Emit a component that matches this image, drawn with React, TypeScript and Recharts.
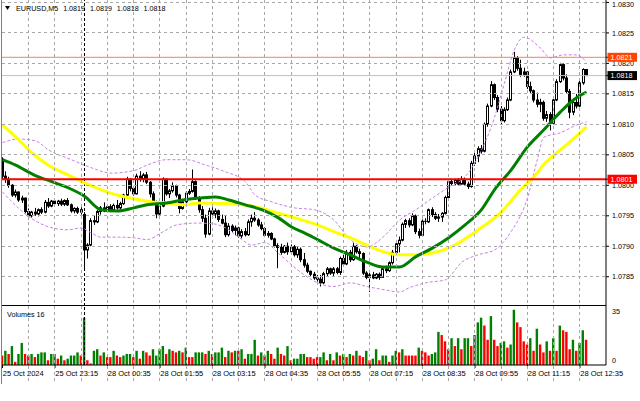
import React from 'react';
import { ComposedChart, Bar, Line, XAxis, YAxis, ReferenceLine } from 'recharts';

// ---------------- data (EURUSD, M5) ----------------
const opens = [
  1.08040,1.08015,1.08010,1.08000,1.07984,1.07989,1.07976,1.07979,1.07957,1.07950,
  1.07956,1.07953,1.07960,1.07956,1.07972,1.07966,1.07974,1.07970,1.07974,1.07969,
  1.07975,1.07968,1.07958,1.07962,1.07956,1.07952,1.07894,1.07902,1.07942,1.07940,
  1.07957,1.07963,1.07958,1.07965,1.07959,1.07967,1.07963,1.07970,1.07984,1.08010,
  1.07995,1.07986,1.08015,1.08010,1.08017,1.08005,1.07986,1.07972,1.07953,1.07966,
  1.08010,1.07986,1.07991,1.07999,1.07984,1.07962,1.07973,1.07987,1.07990,1.08006,
  1.07980,1.07960,1.07946,1.07920,1.07958,1.07953,1.07958,1.07944,1.07938,1.07919,
  1.07933,1.07926,1.07930,1.07917,1.07924,1.07919,1.07940,1.07946,1.07943,1.07935,
  1.07929,1.07918,1.07921,1.07912,1.07901,1.07898,1.07890,1.07900,1.07891,1.07899,
  1.07886,1.07895,1.07878,1.07869,1.07859,1.07854,1.07848,1.07846,1.07840,1.07855,
  1.07863,1.07856,1.07863,1.07857,1.07880,1.07871,1.07890,1.07878,1.07900,1.07891,
  1.07888,1.07856,1.07849,1.07853,1.07848,1.07854,1.07849,1.07863,1.07860,1.07873,
  1.07890,1.07904,1.07910,1.07936,1.07942,1.07935,1.07950,1.07924,1.07918,1.07941,
  1.07940,1.07960,1.07952,1.07946,1.07948,1.07954,1.07980,1.08006,1.08003,1.08008,
  1.08002,1.08010,1.08002,1.07998,1.08036,1.08048,1.08060,1.08056,1.08100,1.08130,
  1.08165,1.08144,1.08125,1.08106,1.08124,1.08140,1.08186,1.08209,1.08192,1.08182,
  1.08186,1.08162,1.08155,1.08140,1.08133,1.08136,1.08110,1.08116,1.08102,1.08140,
  1.08170,1.08198,1.08176,1.08154,1.08120,1.08136,1.08130,1.08168,1.08190,
];
const highs = [
  1.08046,1.08023,1.08014,1.08002,1.07993,1.07990,1.07983,1.07980,1.07962,1.07958,
  1.07963,1.07962,1.07964,1.07976,1.07979,1.07976,1.07978,1.07976,1.07978,1.07977,
  1.07979,1.07970,1.07964,1.07965,1.07964,1.07956,1.07905,1.07946,1.07950,1.07960,
  1.07966,1.07972,1.07968,1.07969,1.07970,1.07976,1.07973,1.07986,1.08014,1.08012,
  1.07999,1.08019,1.08023,1.08020,1.08022,1.08007,1.07990,1.07975,1.07970,1.08013,
  1.08011,1.07994,1.08005,1.08001,1.07986,1.07976,1.07990,1.07994,1.08026,1.08008,
  1.07982,1.07966,1.07952,1.07963,1.07964,1.07962,1.07960,1.07952,1.07950,1.07938,
  1.07936,1.07934,1.07932,1.07928,1.07930,1.07944,1.07952,1.07956,1.07946,1.07940,
  1.07931,1.07925,1.07923,1.07914,1.07905,1.07904,1.07902,1.07906,1.07903,1.07902,
  1.07899,1.07898,1.07889,1.07873,1.07860,1.07858,1.07853,1.07853,1.07858,1.07866,
  1.07865,1.07866,1.07866,1.07883,1.07886,1.07894,1.07894,1.07906,1.07902,1.07896,
  1.07890,1.07859,1.07856,1.07858,1.07856,1.07857,1.07866,1.07868,1.07875,1.07894,
  1.07908,1.07916,1.07939,1.07945,1.07946,1.07954,1.07952,1.07929,1.07944,1.07946,
  1.07962,1.07964,1.07956,1.07953,1.07956,1.07983,1.08010,1.08010,1.08011,1.08012,
  1.08015,1.08013,1.08006,1.08040,1.08054,1.08064,1.08066,1.08103,1.08134,1.08171,
  1.08167,1.08148,1.08130,1.08128,1.08144,1.08190,1.08219,1.08212,1.08206,1.08193,
  1.08187,1.08170,1.08157,1.08152,1.08142,1.08139,1.08122,1.08120,1.08144,1.08174,
  1.08201,1.08200,1.08182,1.08158,1.08140,1.08150,1.08173,1.08192,1.08190,
];
const lows = [
  1.08010,1.08004,1.07996,1.07981,1.07980,1.07973,1.07971,1.07954,1.07944,1.07947,
  1.07950,1.07949,1.07953,1.07954,1.07963,1.07964,1.07968,1.07966,1.07966,1.07966,
  1.07966,1.07955,1.07954,1.07953,1.07952,1.07862,1.07880,1.07900,1.07935,1.07938,
  1.07952,1.07956,1.07955,1.07956,1.07957,1.07960,1.07961,1.07968,1.07982,1.07990,
  1.07983,1.07985,1.08006,1.08005,1.08002,1.07980,1.07968,1.07946,1.07950,1.07964,
  1.07983,1.07979,1.07988,1.07980,1.07954,1.07960,1.07970,1.07984,1.07988,1.07976,
  1.07955,1.07940,1.07914,1.07918,1.07950,1.07946,1.07940,1.07936,1.07915,1.07916,
  1.07922,1.07918,1.07914,1.07913,1.07916,1.07917,1.07932,1.07940,1.07932,1.07926,
  1.07915,1.07914,1.07910,1.07898,1.07864,1.07886,1.07888,1.07886,1.07889,1.07883,
  1.07881,1.07874,1.07865,1.07856,1.07850,1.07845,1.07842,1.07834,1.07838,1.07850,
  1.07853,1.07850,1.07854,1.07853,1.07867,1.07869,1.07874,1.07876,1.07888,1.07879,
  1.07853,1.07846,1.07825,1.07846,1.07846,1.07845,1.07848,1.07856,1.07858,1.07870,
  1.07888,1.07890,1.07908,1.07930,1.07931,1.07933,1.07920,1.07913,1.07916,1.07936,
  1.07938,1.07948,1.07943,1.07940,1.07940,1.07952,1.07978,1.07999,1.08000,1.08000,
  1.08001,1.07999,1.07994,1.07996,1.08032,1.08038,1.08052,1.08054,1.08096,1.08128,
  1.08140,1.08120,1.08100,1.08103,1.08122,1.08138,1.08184,1.08188,1.08178,1.08178,
  1.08158,1.08150,1.08136,1.08128,1.08120,1.08106,1.08104,1.08090,1.08100,1.08138,
  1.08168,1.08172,1.08150,1.08110,1.08115,1.08126,1.08128,1.08165,1.08180,
];
const closes = [
  1.08015,1.08010,1.08000,1.07984,1.07989,1.07976,1.07979,1.07957,1.07950,1.07956,
  1.07953,1.07960,1.07956,1.07972,1.07966,1.07974,1.07970,1.07974,1.07969,1.07975,
  1.07968,1.07958,1.07962,1.07956,1.07960,1.07894,1.07902,1.07942,1.07940,1.07957,
  1.07963,1.07958,1.07965,1.07959,1.07967,1.07963,1.07970,1.07984,1.08010,1.07995,
  1.07986,1.08015,1.08010,1.08017,1.08005,1.07986,1.07972,1.07953,1.07966,1.08010,
  1.07986,1.07991,1.07999,1.07984,1.07962,1.07973,1.07987,1.07990,1.08006,1.07980,
  1.07960,1.07946,1.07920,1.07958,1.07953,1.07958,1.07944,1.07938,1.07919,1.07933,
  1.07926,1.07930,1.07917,1.07924,1.07919,1.07940,1.07946,1.07943,1.07935,1.07929,
  1.07918,1.07921,1.07912,1.07901,1.07898,1.07890,1.07900,1.07891,1.07899,1.07886,
  1.07895,1.07878,1.07869,1.07859,1.07854,1.07848,1.07846,1.07840,1.07855,1.07863,
  1.07856,1.07863,1.07857,1.07880,1.07871,1.07890,1.07878,1.07900,1.07891,1.07888,
  1.07856,1.07849,1.07853,1.07848,1.07854,1.07849,1.07863,1.07860,1.07873,1.07890,
  1.07904,1.07910,1.07936,1.07942,1.07935,1.07950,1.07924,1.07918,1.07941,1.07940,
  1.07960,1.07952,1.07946,1.07948,1.07954,1.07980,1.08006,1.08003,1.08008,1.08002,
  1.08010,1.08002,1.07998,1.08036,1.08048,1.08060,1.08056,1.08100,1.08130,1.08165,
  1.08144,1.08125,1.08106,1.08124,1.08140,1.08186,1.08209,1.08192,1.08182,1.08186,
  1.08162,1.08155,1.08140,1.08133,1.08136,1.08110,1.08116,1.08102,1.08140,1.08170,
  1.08198,1.08176,1.08154,1.08120,1.08136,1.08130,1.08168,1.08190,1.08180,
];
const volumes = [
  6,9,7,12,2,7,14,7,6,7,
  5,7,8,8,3,7,7,4,6,3,
  4,6,6,8,6,30,3,1,9,10,
  6,8,5,5,9,6,5,6,7,7,
  5,9,4,9,8,6,10,6,10,12,
  7,10,9,8,9,8,11,5,5,8,
  8,8,7,9,7,8,8,11,5,9,
  8,9,9,10,4,7,7,16,6,8,
  6,9,7,4,11,7,6,12,3,4,
  4,7,7,5,5,4,5,5,8,3,
  7,3,8,6,7,5,7,6,9,6,
  5,9,3,4,10,3,6,6,2,6,
  9,8,10,6,6,6,6,11,9,8,
  6,7,8,21,19,15,10,17,12,17,
  10,17,17,12,19,27,30,25,16,31,
  16,12,14,15,11,13,35,27,24,15,
  13,17,9,23,13,8,15,9,17,9,
  25,22,21,10,16,9,14,22,16,
];
// 1 = volume bar drawn green (rising), 0 = red
const volumeRising = [
  0,1,0,1,0,1,1,0,0,1,
  0,1,1,1,0,1,1,0,1,0,
  1,1,1,1,0,1,0,0,1,1,
  0,1,0,0,1,0,0,1,1,1,
  0,1,0,1,0,0,1,1,1,1,
  0,1,0,0,1,0,1,0,0,1,
  1,1,0,1,0,1,1,1,0,1,
  0,1,0,1,0,1,1,1,0,1,
  0,1,0,0,1,0,0,1,0,1,
  1,1,1,0,0,0,0,1,1,0,
  1,0,1,0,1,0,1,0,1,0,
  0,1,0,1,1,0,1,1,0,1,
  1,0,1,0,0,0,0,1,0,0,
  0,1,1,1,0,0,0,1,0,1,
  0,1,1,0,1,1,1,0,0,1,
  0,0,1,1,0,1,1,0,0,0,
  0,1,0,1,0,0,1,0,1,0,
  1,0,0,0,1,0,1,1,0,
];

// Moving averages / Bollinger bands: [bar index, price]
const ma50Points: [number, number][] = [
  [0,1.08099],[5,1.08074],[9,1.08053],[14,1.08033],[20,1.08017],[25,1.08004],[30,1.07993],
  [35,1.07984],[40,1.07978],[45,1.07973],[50,1.07971],[55,1.07968],[60,1.07971],[68,1.07970],
  [77,1.07965],[83,1.07956],[89,1.07947],[96,1.07935],[101,1.07924],[106,1.07914],[111,1.07902],
  [116,1.07891],[121,1.07886],[126,1.07886],[131,1.07889],[136,1.07897],[145,1.07927],
  [152,1.07956],[158,1.07993],[162,1.08014],[165,1.08034],[170,1.08058],[174,1.08076],[178,1.08096],
];
const ma30Points: [number, number][] = [
  [0,1.08042],[4,1.08033],[10,1.08016],[15,1.08006],[20,1.07996],[25,1.07982],[30,1.07960],
  [35,1.07958],[40,1.07963],[44,1.07968],[50,1.07971],[55,1.07976],[60,1.07979],[65,1.07981],
  [69,1.07976],[74,1.07968],[79,1.07960],[84,1.07947],[88,1.07932],[92,1.07922],[96,1.07911],
  [101,1.07897],[106,1.07886],[111,1.07874],[116,1.07866],[121,1.07866],[126,1.07883],
  [131,1.07897],[136,1.07914],[141,1.07935],[146,1.07960],[150,1.07993],[155,1.08025],
  [160,1.08063],[165,1.08091],[170,1.08120],[174,1.08140],[178,1.08153],
];
const bbUpperPoints: [number, number][] = [
  [0,1.08070],[5,1.08076],[10,1.08073],[14,1.08058],[21,1.08042],[27,1.08029],[33,1.08020],
  [40,1.08024],[44,1.08033],[50,1.08042],[56,1.08042],[62,1.08033],[68,1.08022],[74,1.08006],
  [77,1.07984],[82,1.07973],[89,1.07963],[95,1.07960],[101,1.07943],[106,1.07911],[111,1.07899],
  [116,1.07915],[121,1.07943],[126,1.07960],[131,1.07979],[136,1.07997],[141,1.08014],
  [145,1.08047],[150,1.08112],[153,1.08168],[156,1.08222],[159,1.08243],[164,1.08225],
  [167,1.08209],[171,1.08214],[175,1.08214],[178,1.08202],
];
const bbLowerPoints: [number, number][] = [
  [0,1.07989],[9,1.07945],[14,1.07932],[20,1.07927],[24,1.07930],[27,1.07922],[30,1.07915],
  [35,1.07915],[40,1.07914],[44,1.07911],[49,1.07924],[53,1.07935],[59,1.07938],[64,1.07937],
  [68,1.07930],[72,1.07915],[76,1.07902],[80,1.07906],[84,1.07889],[88,1.07870],[92,1.07853],
  [96,1.07840],[101,1.07834],[106,1.07840],[111,1.07834],[116,1.07829],[121,1.07825],
  [124,1.07832],[129,1.07840],[135,1.07845],[140,1.07874],[145,1.07886],[150,1.07894],
  [155,1.07924],[160,1.07979],[163,1.08042],[165,1.08079],[170,1.08086],[175,1.08099],[178,1.08104],
];

const timeLabels = [
  '25 Oct 2024','25 Oct 23:15','28 Oct 00:35','28 Oct 01:55','28 Oct 03:15','28 Oct 04:35',
  '28 Oct 05:55','28 Oct 07:15','28 Oct 08:35','28 Oct 09:55','28 Oct 11:15','28 Oct 12:35',
];
const timeLabelBars = [0,16,32,48,64,80,96,112,128,144,160,176];
const gridBars = [8,16,24,32,40,48,56,64,72,80,88,96,104,112,120,128,136,144,152,160,168,176];
const daySeparatorBar = 25;
const priceTicks = [1.0785,1.079,1.0795,1.08,1.0805,1.081,1.0815,1.082,1.0825,1.083];
const volumeTicks = [0, 35];
const symbolName = 'EURUSD,M5';
const supportLevel = 1.0801;
const resistanceLevel = 1.0821;
const bidPrice = 1.0818;

// ---------------- layout ----------------
const FONT = "'Liberation Sans', Arial, sans-serif";
const PLOT_LEFT = 2;
const PLOT_RIGHT = 606;
const MAIN_H = 306;
const VOL_PLOT_H = 77;
const X_DOMAIN: [number, number] = [-0.152, 183.94];
const PRICE_DOMAIN: [number, number] = [1.07802, 1.08304];
const VOL_DOMAIN: [number, number] = [0, 37.4];
const GRID_STROKE = '#A8A8A8';
const GRID_DASH = '3 3';

const candleRows = opens.map((o, i) => ({
  i, o, h: highs[i], l: lows[i], c: closes[i], range: [lows[i], highs[i]],
  v: volumes[i], up: volumeRising[i] === 1,
}));
const toRows = (pts: [number, number][]) => pts.map(([i, v]) => ({ i, v }));

const levelBoxes = [
  { value: supportLevel, bg: '#FF0000', fg: '#FFFFFF' },
  { value: bidPrice, bg: '#000000', fg: '#FFFFFF' },
  { value: resistanceLevel, bg: '#FF4500', fg: '#FFFFFF' },
];
const crisp = (v: number) => Math.round(v - 0.5) + 0.5;
// bar index -> pixel column, same linear mapping as the numeric x axis (domain X_DOMAIN over the plot width)
const barToPx = (b: number) =>
  PLOT_LEFT + ((b - X_DOMAIN[0]) / (X_DOMAIN[1] - X_DOMAIN[0])) * (PLOT_RIGHT - PLOT_LEFT);

function VerticalGrid({ y1, y2 }: { y1: number; y2: number }) {
  return (
    <g>
      {gridBars.map((b) => {
        const gx = crisp(barToPx(b));
        return <line key={b} x1={gx} x2={gx} y1={y1} y2={y2} stroke={GRID_STROKE} strokeDasharray={GRID_DASH} />;
      })}
    </g>
  );
}

function CandleShape(props: any) {
  const { x, y, width, height } = props;
  const p = props.payload ?? props;
  if (x == null || y == null || p == null) return null;
  const { o, h, l, c } = p;
  const top = Math.min(y, y + height);
  const span = Math.abs(height);
  const cx = crisp(x + width / 2);
  const pix = (v: number) => (h - l > 0 ? top + ((h - v) / (h - l)) * span : top);
  const bTop = pix(Math.max(o, c));
  const bBot = pix(Math.min(o, c));
  const bull = c > o;
  return (
    <g>
      <line x1={cx} x2={cx} y1={top} y2={top + Math.max(span, 0.5)} stroke="#000" strokeWidth={1} />
      {bBot - bTop < 1 ? (
        <line x1={cx - 1.5} x2={cx + 1.5} y1={bTop} y2={bTop} stroke="#000" strokeWidth={1} />
      ) : (
        <rect x={cx - 1} y={bTop} width={2} height={bBot - bTop} fill={bull ? '#FFFFFF' : '#000000'} stroke="#000" strokeWidth={1} />
      )}
    </g>
  );
}

function VolumeShape(props: any) {
  const { x, y, width, height } = props;
  const p = props.payload ?? props;
  if (x == null || y == null) return null;
  return <rect x={x} y={Math.min(y, y + height)} width={width} height={Math.abs(height)} fill={p.up ? '#008000' : '#FF0000'} />;
}

// right price axis: label + dotted grid line at each regular tick, coloured boxes for level lines
function PriceTick(props: any) {
  const { x, payload } = props;
  const v: number = payload.value;
  const label = v.toFixed(4);
  const box = levelBoxes.find((b) => Math.abs(b.value - v) < 1e-9);
  const y = Math.max(props.y, 4.5);
  if (box) {
    return (
      <g>
        <rect x={x - 4.5} y={y - 4.5} width={29.5} height={9} fill={box.bg} />
        <text x={x - 1.5} y={y} dy={2.6} fontSize={7.2} fontFamily={FONT} fill={box.fg}>{label}</text>
      </g>
    );
  }
  const gy = crisp(props.y);
  return (
    <g>
      {v === priceTicks[0] && <VerticalGrid y1={0} y2={MAIN_H - 1} />}
      <line x1={PLOT_LEFT} x2={PLOT_RIGHT} y1={gy} y2={gy} stroke={GRID_STROKE} strokeDasharray={GRID_DASH} />
      <text x={x} y={y} dy={2.6} fontSize={7.2} fontFamily={FONT} fill="#000">{label}</text>
    </g>
  );
}

function VolumeTick(props: any) {
  const { x, y, payload } = props;
  const v: number = payload.value;
  return (
    <g>
      {v === 0 && <VerticalGrid y1={0} y2={VOL_PLOT_H} />}
      <text x={x} y={y} dy={v === 0 ? -2.5 : 4.5} fontSize={7.2} fontFamily={FONT} fill="#000">{String(v)}</text>
    </g>
  );
}

function TimeTick(props: any) {
  const { x, y, payload } = props;
  const idx = timeLabelBars.indexOf(payload.value);
  return (
    <text x={x + 0.3} y={y} dy={6} fontSize={7.5} fontFamily={FONT} fill="#000" textAnchor="start">{timeLabels[idx] ?? ''}</text>
  );
}

export default function App() {
  const last = candleRows[candleRows.length - 1];
  const quote = [last.o, last.h, last.l, last.c].map((v) => v.toFixed(4)).join(' ');
  return (
    <div style={{ position: 'absolute', left: 0, top: 0, width: 640, height: 401, background: '#fff', overflow: 'hidden' }}>
      {/* price panel */}
      <div style={{ position: 'absolute', left: 0, top: 0 }}>
        <ComposedChart width={640} height={MAIN_H} data={candleRows} margin={{ top: 0, right: 0, bottom: 0, left: PLOT_LEFT }}>
          <XAxis dataKey="i" type="number" domain={X_DOMAIN} allowDataOverflow hide />
          <YAxis
            orientation="right" width={34} domain={PRICE_DOMAIN} allowDataOverflow
            ticks={[...priceTicks, ...levelBoxes.map((b) => b.value)]} interval={0}
            tick={PriceTick} tickSize={3} tickMargin={3}
            axisLine={{ stroke: '#000' }} tickLine={{ stroke: '#000' }}
          />
          <ReferenceLine x={daySeparatorBar} stroke="#000" strokeDasharray="3 2" />
          <Line data={toRows(bbUpperPoints)} dataKey="v" type="monotone" stroke="#C77FE6" strokeWidth={1} strokeDasharray="3 2" dot={false} isAnimationActive={false} />
          <Line data={toRows(bbLowerPoints)} dataKey="v" type="monotone" stroke="#C77FE6" strokeWidth={1} strokeDasharray="3 2" dot={false} isAnimationActive={false} />
          <Bar dataKey="range" barSize={3} shape={CandleShape} isAnimationActive={false} />
          <Line data={toRows(ma50Points)} dataKey="v" type="monotone" stroke="#FFFF00" strokeWidth={3} dot={false} isAnimationActive={false} />
          <Line data={toRows(ma30Points)} dataKey="v" type="monotone" stroke="#008000" strokeWidth={3} dot={false} isAnimationActive={false} />
          <ReferenceLine y={bidPrice} stroke="#C0C0C0" strokeWidth={1} />
          <ReferenceLine y={resistanceLevel} stroke="#FF7F50" strokeWidth={1} />
          <ReferenceLine y={supportLevel} stroke="#FF0000" strokeWidth={2} />
        </ComposedChart>
      </div>
      {/* volume panel */}
      <div style={{ position: 'absolute', left: 0, top: MAIN_H }}>
        <ComposedChart width={640} height={95} data={candleRows} margin={{ top: 0, right: 0, bottom: 18, left: PLOT_LEFT }}>
          <XAxis
            dataKey="i" type="number" domain={X_DOMAIN} allowDataOverflow height={18}
            ticks={timeLabelBars} interval={0} tick={TimeTick} tickSize={3} tickMargin={2}
            axisLine={{ stroke: '#000' }} tickLine={{ stroke: '#000' }}
          />
          <YAxis
            orientation="right" width={34} domain={VOL_DOMAIN} allowDataOverflow
            ticks={volumeTicks} interval={0} tick={VolumeTick} tickSize={3} tickMargin={3}
            axisLine={{ stroke: '#000' }} tickLine={false}
          />
          <ReferenceLine x={daySeparatorBar} stroke="#000" strokeDasharray="3 2" />
          <Bar dataKey="v" barSize={2.4} shape={VolumeShape} isAnimationActive={false} />
        </ComposedChart>
      </div>
      {/* frame lines */}
      <div style={{ position: 'absolute', left: 1, top: 0, width: 1, height: 384, background: '#808080' }} />
      <div style={{ position: 'absolute', left: 2, top: 305, width: 604, height: 1, background: '#000' }} />
      {/* title */}
      <svg style={{ position: 'absolute', left: 5, top: 6, display: 'block' }} width={5} height={4}>
        <polygon points="0,0 5,0 2.5,4" fill="#000" />
      </svg>
      <div style={{ position: 'absolute', left: 16, top: 4.5, fontFamily: FONT, fontSize: 7.2, lineHeight: '8px', whiteSpace: 'pre', wordSpacing: 2.8, color: '#000' }}>
        {`${symbolName} ${quote}`}
      </div>
      <div style={{ position: 'absolute', left: 7, top: 311, fontFamily: FONT, fontSize: 7.2, lineHeight: '8px', whiteSpace: 'pre', color: '#000' }}>
        {`Volumes ${volumes[volumes.length - 1]}`}
      </div>
    </div>
  );
}
